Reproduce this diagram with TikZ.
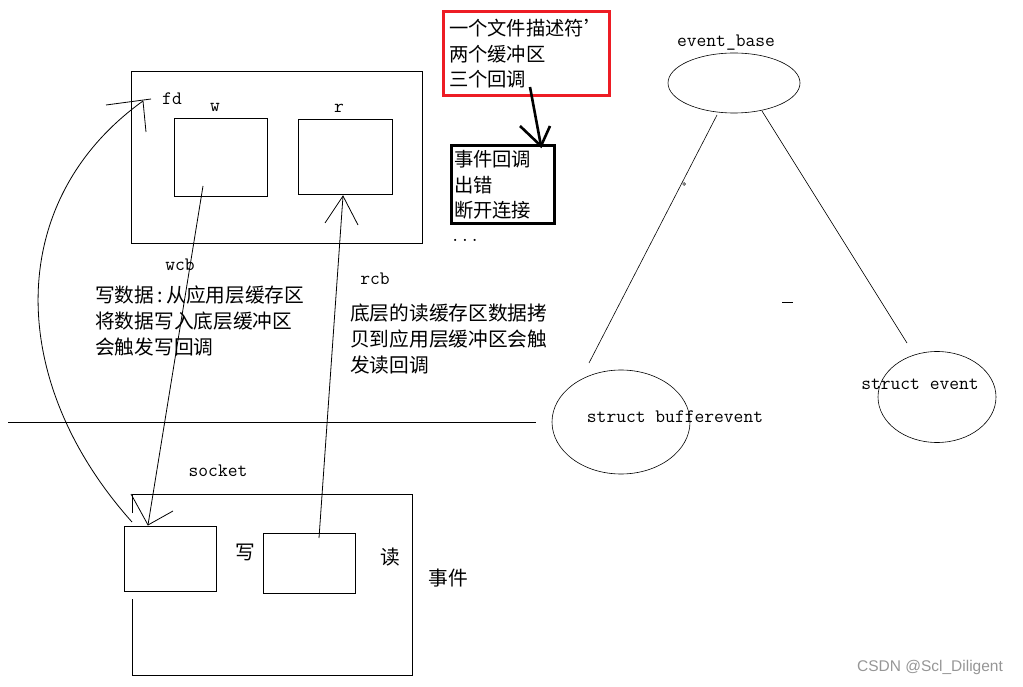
\documentclass[tikz,border=0pt]{standalone}
\usepackage{fontspec}
\usetikzlibrary{shapes.geometric}
\newfontfamily\cjk{Noto Sans CJK SC}
\newfontfamily\wmfont{Liberation Sans}
\definecolor{paintred}{RGB}{237,28,36}
\definecolor{wmgray}{RGB}{150,150,150}
\begin{document}
\begin{tikzpicture}[x=1pt,y=-1pt,
  thinline/.style={line width=0.8pt},
  box/.style={draw,thinline,inner sep=0pt},
  oval/.style={draw,ellipse,line width=0.6pt,inner sep=0pt},
  monolabel/.style={inner sep=0pt,font=\ttfamily\fontsize{19}{20}\selectfont},
  cjklabel/.style={inner sep=0pt,align=left,font=\cjk\fontsize{19.7}{26}\selectfont},
  thickbox/.style={draw,line width=3pt,inner ysep=0pt,align=left,font=\cjk\fontsize{19.3}{25.5}\selectfont},
  heavy/.style={line width=2.6pt}]
\useasboundingbox (0,0) rectangle (1023,687);
% upper structure
\node[box,minimum width=291pt,minimum height=172pt] (top) at (276.5,157) {};
\node[box,minimum width=93pt,minimum height=78pt] (wbox) at (220.5,157) {};
\node[box,minimum width=94pt,minimum height=75pt] (rbox) at (345,156.5) {};
\node[monolabel] (fd) at (172,99) {fd};
\node[monolabel] (wlab) at (215,107) {w};
\node[monolabel] (rlab) at (339,108) {r};
\node[monolabel] (wcb) at (180,265) {wcb};
\node[monolabel] (rcb) at (375,279) {rcb};
\node[cjklabel,anchor=west] (wtext) at (95,321) {写数据\,:\,从应用层缓存区\\将数据写入底层缓冲区\\会触发写回调};
\node[cjklabel,anchor=west] (rtext) at (350,339) {底层的读缓存区数据拷\\贝到应用层缓冲区会触\\发读回调};
% separator
\coordinate (sepL) at (8,422);
\coordinate (sepR) at (536,422);
\draw[thinline] (sepL) -- (sepR);
% socket
\node[monolabel] (socket) at (218,471) {socket};
\draw[thinline] (132,513) -- (132,494) -- (412,494) -- (412,675) -- (132,675) -- (132,599);
\node[box,minimum width=92pt,minimum height=65pt] (wrbox) at (170,558.5) {};
\node[box,minimum width=92pt,minimum height=60pt] (rdbox) at (309,563) {};
\node[cjklabel] (xie) at (245,552) {写};
\node[cjklabel] (du) at (390,557) {读};
\node[cjklabel] (shijian) at (448,578) {事件};
% fd curve
\coordinate (fdtip) at (143,101);
\coordinate (fdend) at (132,522);
\coordinate (fdh1) at (106,105);
\coordinate (fdh2) at (151,99);
\coordinate (fdh3) at (146,132);
\draw[thinline] (fdend) .. controls (5,380) and (5,200) .. (fdtip);
\draw[thinline] (fdh1) -- (fdh2);
\draw[thinline] (fdtip) -- (fdh3);
% wcb line
\coordinate (wstart) at (203,186);
\coordinate (wtip) at (148,525);
\coordinate (wh1) at (131,494);
\coordinate (wh2) at (173,511);
\draw[thinline] (wstart) -- (wtip);
\draw[thinline] (wh1) -- (wtip) -- (wh2);
% rcb line
\coordinate (rstart) at (319,538);
\coordinate (rtip) at (343,196);
\coordinate (rh1) at (325,223);
\coordinate (rh2) at (358,225);
\draw[thinline] (rstart) -- (rtip);
\draw[thinline] (rh1) -- (rtip) -- (rh2);
% red and black boxes
\node[thickbox,draw=paintred,minimum width=166pt,minimum height=84pt,text width=154pt,inner xsep=6pt] (red) at (526,54) {一个文件描述符’\\两个缓冲区\\三个回调};
\node[thickbox,minimum width=103pt,minimum height=78pt,text width=97pt,inner xsep=3pt] (blk) at (502.5,185) {事件回调\\出错\\断开连接};
\node[monolabel] (dots) at (465,240) {...};
\coordinate (aS) at (530,87);
\coordinate (aT) at (541,146);
\coordinate (aH1) at (520,126);
\coordinate (aH2) at (550,126);
\draw[heavy] (aS) -- (aT);
\draw[heavy] (aH1) -- (aT) -- (aH2);
% right tree
\node[monolabel] (baselab) at (726,43) {event\_base};
\node[oval,minimum width=132pt,minimum height=60pt] (base) at (734,83) {};
\node[oval,minimum width=138pt,minimum height=104pt] (bev) at (621,422) {};
\node[oval,minimum width=118pt,minimum height=91pt] (ev) at (937,397) {};
\node[monolabel] (bevlab) at (675,417) {struct bufferevent};
\node[monolabel] (evlab) at (920,384) {struct event};
\coordinate (l1a) at (717,115);
\coordinate (l1b) at (589,363);
\coordinate (l2a) at (762,111);
\coordinate (l2b) at (907,343);
\draw[line width=0.6pt] (l1a) -- (l1b);
\draw[line width=0.6pt] (l2a) -- (l2b);
\coordinate (dot) at (684,184);
\draw[line width=0.5pt] (dot) circle (1.4);
\coordinate (dashA) at (782,302);
\coordinate (dashB) at (793,302);
\draw[line width=0.8pt] (dashA) -- (dashB);
% watermark
\node[inner sep=0pt,text=wmgray,font=\wmfont\fontsize{15.5}{17}\selectfont] (wm) at (930,667) {CSDN @Scl\_Diligent};
\end{tikzpicture}
\end{document}
